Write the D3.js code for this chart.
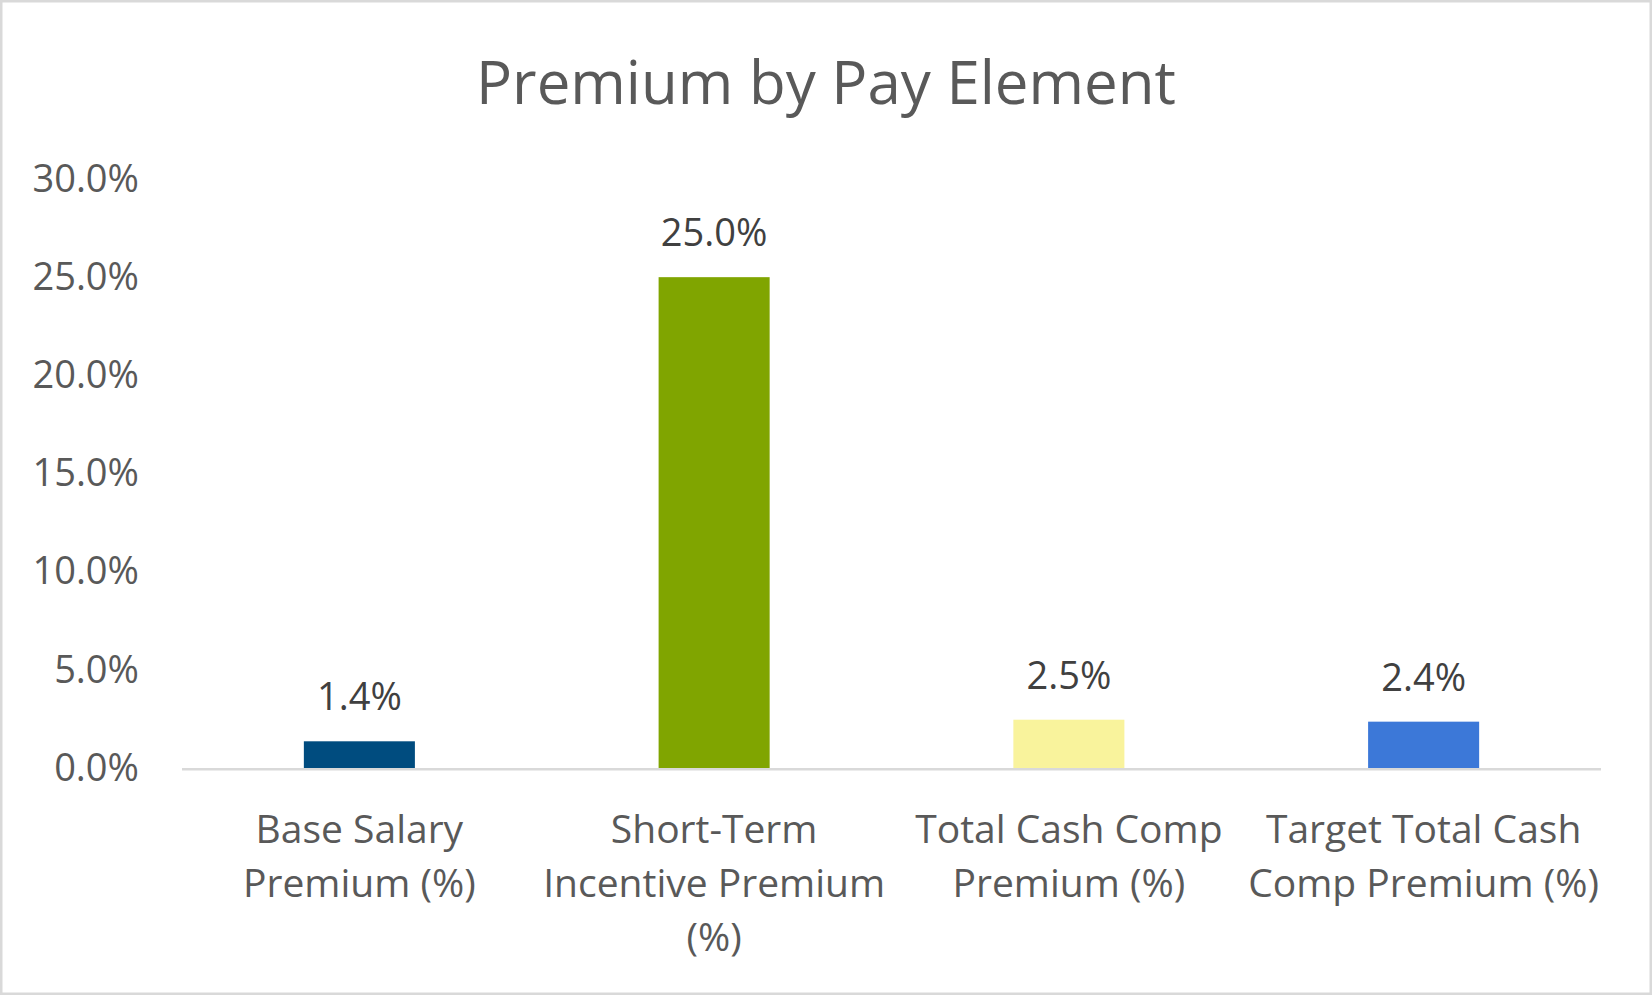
<!DOCTYPE html>
<html>
<head>
<meta charset="utf-8">
<script src="https://cdn.jsdelivr.net/npm/d3@7"></script>
<style>
  html, body { margin: 0; padding: 0; background: #fff; }
  svg { display: block; font-family: "Open Sans", "Noto Sans", sans-serif; }
</style>
</head>
<body>
<svg id="chart" width="1652" height="995"></svg>
<script>
const title = "Premium by Pay Element";
const categories = [
  "Base Salary\nPremium (%)",
  "Short-Term\nIncentive Premium\n(%)",
  "Total Cash Comp\nPremium (%)",
  "Target Total Cash\nComp Premium (%)"
];
const values = [1.36, 25.0, 2.46, 2.36];
const colors = ["#004C7F", "#80A500", "#F9F39C", "#3C78D8"];
const yTicks = [0, 5, 10, 15, 20, 25, 30];

const svg = d3.select("#chart");
const W = 1652, H = 995;

svg.append("rect")
  .attr("x", 1.25).attr("y", 1.25)
  .attr("width", W - 2.5).attr("height", H - 2.5)
  .attr("fill", "#fff").attr("stroke", "#d9d9d9").attr("stroke-width", 2.5);

svg.append("text")
  .attr("x", W / 2).attr("y", 104)
  .attr("text-anchor", "middle")
  .attr("fill", "#595959")
  .style("font-size", "60px")
  .text(title);

const plotLeft = 182, plotRight = 1601, plotTop = 179, plotBottom = 768;

const x = d3.scaleBand()
  .domain(categories)
  .range([plotLeft, plotRight])
  .paddingInner(0.687)
  .paddingOuter(0.3435);

const y = d3.scaleLinear().domain([0, 30]).range([plotBottom, plotTop]);

// y axis labels
const yAxis = d3.axisLeft(y)
  .tickValues(yTicks)
  .tickSize(0)
  .tickPadding(43)
  .tickFormat(d => d3.format(".1f")(d) + "%");

const gy = svg.append("g")
  .attr("transform", `translate(${plotLeft},0)`)
  .call(yAxis);
gy.select(".domain").remove();
gy.selectAll("text")
  .attr("fill", "#595959")
  .style("font-size", "38px")
  .style("font-family", "'Open Sans', 'Noto Sans', sans-serif");

// bars
svg.append("g").selectAll("rect")
  .data(categories)
  .join("rect")
  .attr("x", d => x(d))
  .attr("width", x.bandwidth())
  .attr("y", (d, i) => y(values[i]))
  .attr("height", (d, i) => y(0) - y(values[i]))
  .attr("fill", (d, i) => colors[i]);

// baseline axis
svg.append("line")
  .attr("x1", plotLeft).attr("x2", plotRight)
  .attr("y1", y(0) + 1.3).attr("y2", y(0) + 1.3)
  .attr("stroke", "#d9d9d9").attr("stroke-width", 2.6);

// data labels
svg.append("g").selectAll("text")
  .data(categories)
  .join("text")
  .attr("x", d => x(d) + x.bandwidth() / 2)
  .attr("y", (d, i) => y(values[i]) - 31)
  .attr("text-anchor", "middle")
  .attr("fill", "#404040")
  .style("font-size", "38px")
  .text((d, i) => d3.format(".1f")(values[i]) + "%");

// category labels
const cat = svg.append("g").selectAll("text")
  .data(categories)
  .join("text")
  .attr("x", d => x(d) + x.bandwidth() / 2)
  .attr("y", plotBottom + 75)
  .attr("text-anchor", "middle")
  .attr("fill", "#595959")
  .style("font-size", "39px");
cat.each(function(d) {
  const t = d3.select(this);
  d.split("\n").forEach((line, k) => {
    t.append("tspan")
      .attr("x", x(d) + x.bandwidth() / 2)
      .attr("dy", k === 0 ? 0 : 54)
      .text(line);
  });
});
</script>
</body>
</html>
